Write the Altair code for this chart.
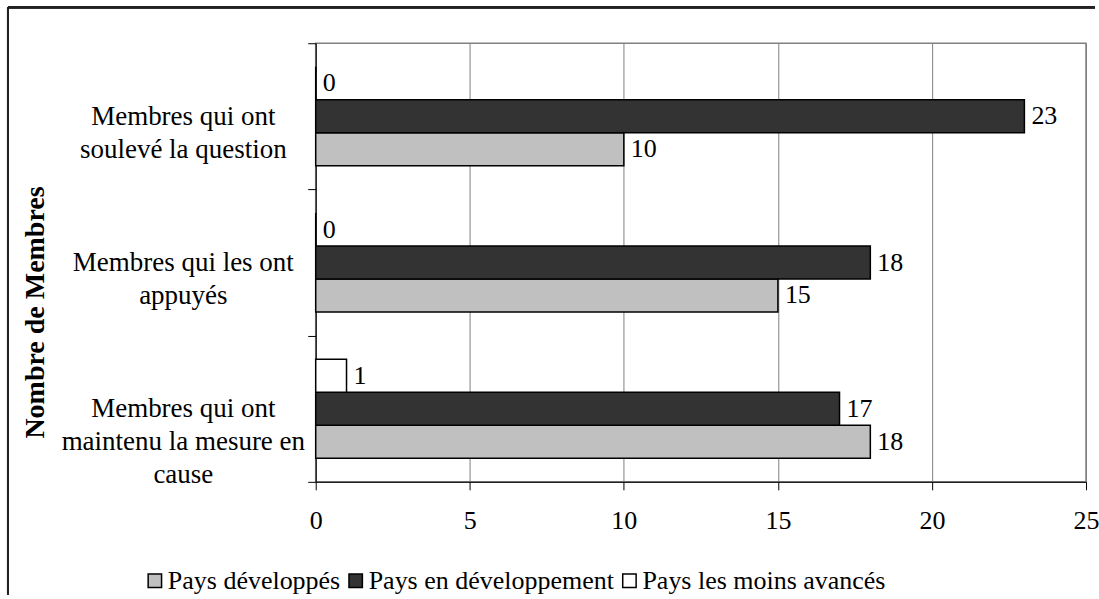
import altair as alt
import pandas as pd

categories = [
    "Membres qui ont|soulevé la question",
    "Membres qui les ont|appuyés",
    "Membres qui ont|maintenu la mesure en|cause",
]
series = ["Pays développés", "Pays en développement", "Pays les moins avancés"]
values_dev = [10, 15, 18]
values_en_dev = [23, 18, 17]
values_pma = [0, 0, 1]
x_ticks = [0, 5, 10, 15, 20, 25]
colors = ["#C0C0C0", "#333333", "#FFFFFF"]

rows = []
for i, c in enumerate(categories):
    for s, vals in zip(series, [values_dev, values_en_dev, values_pma]):
        rows.append({"cat": c, "serie": s, "val": vals[i]})
df = pd.DataFrame(rows)

FONT = "Liberation Serif"

y_enc = alt.Y(
    "cat:N",
    sort=categories,
    scale=alt.Scale(paddingInner=0, paddingOuter=0),
    axis=alt.Axis(
        title="Nombre de Membres",
        titleFont=FONT,
        titleFontSize=28,
        titleFontWeight="bold",
        titleColor="#000",
        titleX=-280,
        titleY=269,
        titleAngle=270,
        titleAlign="center",
        titleBaseline="middle",
        labelExpr="split(datum.label, '|')",
        labelFont=FONT,
        labelFontSize=27,
        labelColor="#000",
        labelLineHeight=33,
        labelAlign="center",
        labelBaseline="middle",
        labelPadding=125,
        labelLimit=400,
        tickBand="extent",
        tickSize=8,
        tickColor="#000",
        domainColor="#000",
        grid=False,
    ),
)

yoff_scale = alt.Scale(paddingInner=0, paddingOuter=0.717)

yoff = alt.YOffset("serie:N", sort=list(reversed(series)), scale=yoff_scale)

x_enc = alt.X(
    "val:Q",
    scale=alt.Scale(domain=[0, 25], nice=False),
    axis=alt.Axis(
        title=None,
        values=x_ticks,
        labelFont=FONT,
        labelFontSize=26,
        labelColor="#000",
        labelPadding=18,
        tickSize=8,
        tickColor="#000",
        domainColor="#000",
        grid=True,
        gridColor="#808080",
        gridWidth=1,
        labelFlush=False,
    ),
)

bars = alt.Chart(df).mark_bar(stroke="#000", strokeWidth=1.5).encode(
    x=x_enc,
    y=y_enc,
    yOffset=yoff,
    color=alt.Color(
        "serie:N",
        scale=alt.Scale(domain=series, range=colors),
        legend=alt.Legend(
            title=None,
            orient="none",
            direction="horizontal",
            legendX=-174,
            legendY=525,
            symbolType="square",
            symbolSize=180,
            symbolStrokeColor="#000",
            symbolStrokeWidth=1.5,
            labelFont=FONT,
            labelFontSize=26,
            labelColor="#000",
            labelOffset=0,
            columnPadding=2,
            labelLimit=400,
        ),
    ),
)

labels = alt.Chart(df).mark_text(
    align="left", baseline="middle", dx=7, font=FONT, fontSize=26, color="#000"
).encode(
    x="val:Q",
    y=alt.Y("cat:N", sort=categories),
    yOffset=alt.YOffset("serie:N", sort=list(reversed(series)), scale=yoff_scale),
    text="val:Q",
)

border_left = alt.Chart(df).mark_rule(color="#222", strokeWidth=2).encode(
    x=alt.value(-308), y=alt.value(-36), y2=alt.value(552)
)
border_top = alt.Chart(df).mark_rule(color="#222", strokeWidth=2).encode(
    x=alt.value(-308), x2=alt.value(780), y=alt.value(-36)
)

chart = (
    alt.layer(bars, labels, border_left, border_top)
    .properties(
        width=771,
        height=439,
        padding={"left": 7, "top": 6, "right": 0, "bottom": 0},
        background="#FFFFFF",
    )
    .configure_view(stroke="#808080", strokeWidth=1.5)
)

chart.save("out.html", embed_options={"renderer": "svg", "actions": False})
